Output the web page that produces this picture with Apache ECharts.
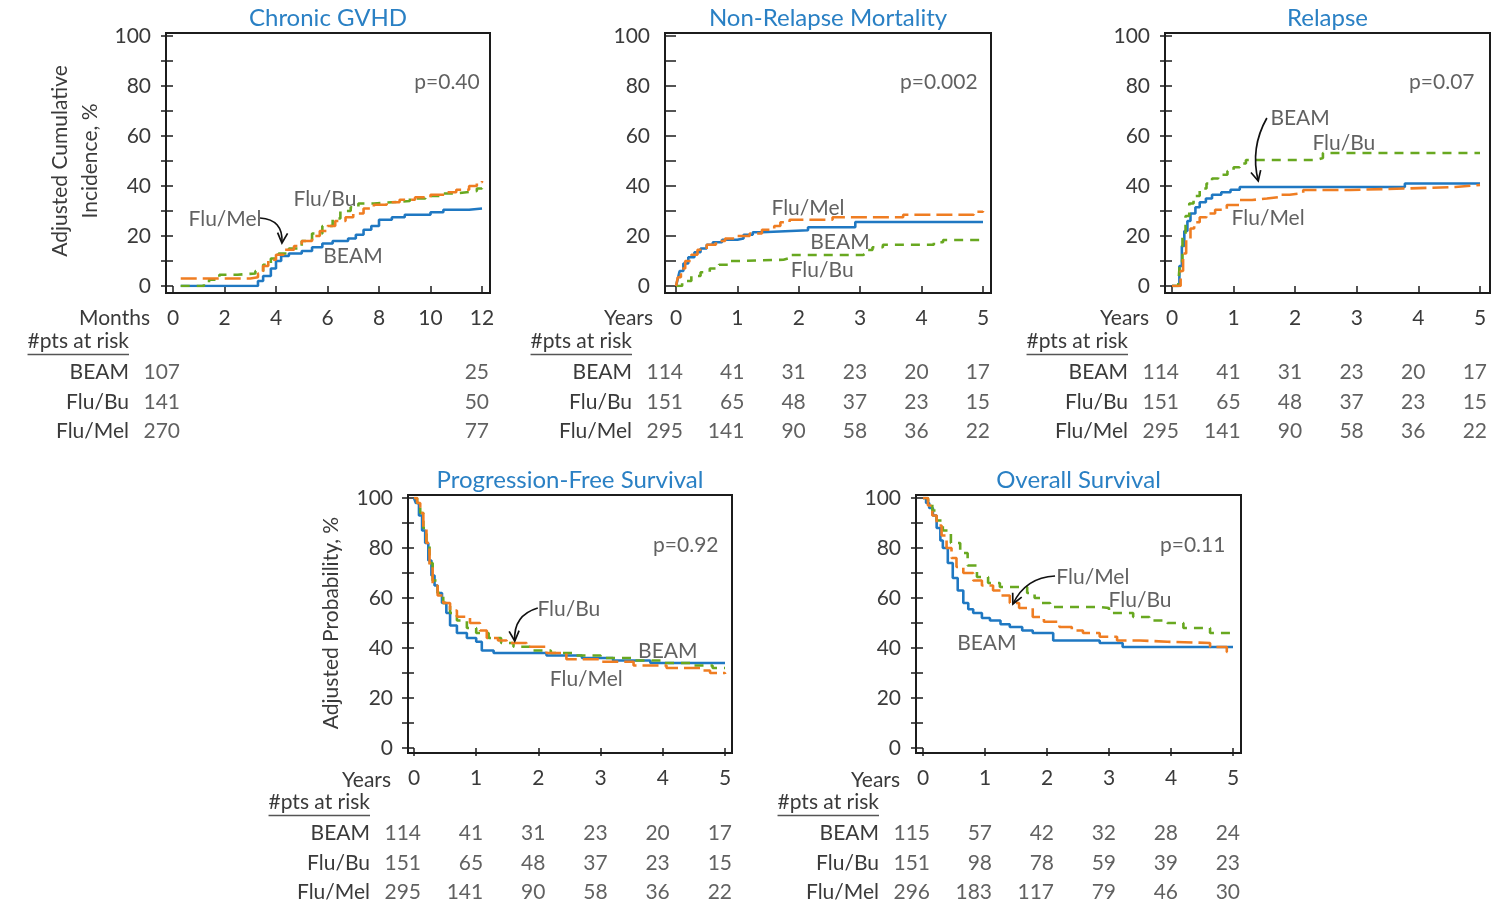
<!DOCTYPE html>
<html><head><meta charset="utf-8">
<script src="https://cdn.jsdelivr.net/npm/echarts@6/dist/echarts.min.js"></script>
<style>html,body{margin:0;padding:0;background:#fff}#c{width:1500px;height:909px}</style>
</head><body><div id="c"></div>
<script>
// ---------------- DATA ----------------
const groups = ['BEAM', 'Flu/Bu', 'Flu/Mel'];
const riskHeader = '#pts at risk';

// Chronic GVHD (months) : [time, %]
const gvhdBEAM = [[0.3,0],[3.2,0],[3.3,2],[3.5,4],[3.8,7],[4.0,10],[4.2,12],[4.5,13],[5.0,14],[5.4,15.5],[5.8,17],[6.2,18],[6.8,19],[7.1,20.5],[7.4,22.5],[7.7,24],[8.0,26.5],[8.5,27.5],[9.0,28.5],[10.0,29.5],[10.5,30.5],[11.5,31],[12,31]];
const gvhdFluBu = [[0.3,0],[1.2,1],[1.4,2.5],[1.8,4.5],[2.5,5],[3.2,6],[3.5,8.5],[3.8,11],[4.1,13],[4.5,15],[5.0,18],[5.4,21],[5.8,24],[6.2,27],[6.5,30],[6.9,31.5],[7.2,33],[7.8,33.5],[8.5,34],[9.2,35],[9.8,36],[10.5,37],[11.0,37.5],[11.4,38],[11.8,39],[12,40]];
const gvhdFluMel = [[0.3,3],[3.0,3.5],[3.3,5],[3.5,8],[3.7,10.5],[4.0,12.5],[4.3,14.5],[4.7,16],[5.0,18],[5.4,20],[5.7,22],[6.0,24],[6.3,26],[6.7,27.5],[7.0,29],[7.4,31],[7.8,32.5],[8.3,33.5],[8.8,34.5],[9.4,35.5],[10.0,36.5],[10.6,37.5],[11.0,38.5],[11.5,40],[11.8,41.5],[12,42]];
const gvhdRiskTimes = [0, 12];
const gvhdRiskBEAM = [107, 25];
const gvhdRiskFluBu = [141, 50];
const gvhdRiskFluMel = [270, 77];

// Non-Relapse Mortality (years)
const nrmBEAM = [[0,0],[0.03,3],[0.06,6],[0.12,9],[0.2,11.5],[0.3,13.5],[0.4,15],[0.5,16.5],[0.6,17.5],[0.75,18.5],[1.0,19],[1.1,20.5],[1.25,21.5],[1.4,22.3],[2.15,23.5],[2.92,25.6],[5,25.6]];
const nrmFluBu = [[0,0],[0.1,2],[0.25,4],[0.4,5.5],[0.55,7],[0.7,8.5],[0.88,10],[1.0,10.5],[1.75,11.2],[1.85,12.4],[3.05,13.2],[3.1,14.4],[3.2,15.5],[3.37,16.5],[4.2,17.5],[4.35,18.4],[5,18.4]];
const nrmFluMel = [[0,0],[0.03,3.5],[0.08,7],[0.15,10],[0.25,12.5],[0.35,14.5],[0.5,16.5],[0.65,18],[0.8,19],[1.0,20],[1.2,21],[1.4,22.5],[1.6,24],[1.7,25.5],[1.85,26.5],[2.55,27.5],[3.7,28.5],[4.85,29.7],[5,30]];
const yearRiskTimes = [0, 1, 2, 3, 4, 5];
const nrmRiskBEAM = [114, 41, 31, 23, 20, 17];
const nrmRiskFluBu = [151, 65, 48, 37, 23, 15];
const nrmRiskFluMel = [295, 141, 90, 58, 36, 22];

// Relapse (years)
const relBEAM = [[0,0],[0.08,0],[0.12,8],[0.16,16],[0.2,22],[0.25,26],[0.3,29],[0.38,31.5],[0.45,33.5],[0.55,35],[0.65,36.5],[0.8,37.5],[0.95,38.5],[1.1,39.6],[3.78,41],[5,41]];
const relFluBu = [[0,0],[0.1,0],[0.13,10],[0.17,20],[0.22,28],[0.28,33],[0.35,36],[0.45,39],[0.56,41],[0.65,43],[0.75,44.5],[0.9,46],[1.0,47.5],[1.1,49],[1.2,50.4],[2.35,51.2],[2.45,53.2],[5,53.2]];
const relFluMel = [[0,0],[0.1,0],[0.14,6],[0.18,13],[0.23,19],[0.3,23],[0.36,25.5],[0.45,27.5],[0.56,29],[0.7,30.5],[0.89,32.4],[1.1,34.4],[1.3,35],[1.54,35.6],[1.75,36.5],[1.91,37.2],[2.13,38.4],[2.9,39],[3.8,39.6],[4.6,40.4],[5,40.4]];
const relRiskBEAM = [114, 41, 31, 23, 20, 17];
const relRiskFluBu = [151, 65, 48, 37, 23, 15];
const relRiskFluMel = [295, 141, 90, 58, 36, 22];

// Progression-Free Survival (years)
const pfsBEAM = [[0,100],[0.03,98],[0.08,93],[0.13,87],[0.18,82],[0.23,75],[0.28,69],[0.33,65],[0.38,62],[0.45,58],[0.52,54],[0.58,49],[0.69,46],[0.85,44],[1.0,42.5],[1.09,39],[1.28,38],[2.13,37],[2.7,36],[3.2,35],[3.8,34],[5,34]];
const pfsFluBu = [[0,100],[0.05,98],[0.1,94],[0.15,88],[0.2,81],[0.25,74],[0.3,67],[0.38,62],[0.47,58],[0.58,54],[0.69,51],[0.85,48],[1.0,46],[1.2,44],[1.4,42],[1.6,40.5],[1.9,39],[2.2,38],[2.6,37],[3.0,36],[3.5,35],[4.0,34],[4.5,33],[4.8,32],[5,32]];
const pfsFluMel = [[0,100],[0.05,98],[0.1,94],[0.15,88],[0.2,82],[0.25,73],[0.3,65],[0.38,61],[0.47,58],[0.58,55],[0.69,52.5],[0.9,50],[1.06,47],[1.17,44],[1.35,43],[1.49,42],[1.81,40.5],[2.13,38],[2.45,35.5],[2.99,34.5],[3.53,33],[4.06,32],[4.6,31],[4.76,30],[5,29.6]];
const pfsRiskBEAM = [114, 41, 31, 23, 20, 17];
const pfsRiskFluBu = [151, 65, 48, 37, 23, 15];
const pfsRiskFluMel = [295, 141, 90, 58, 36, 22];

// Overall Survival (years)
const osBEAM = [[0,100],[0.05,98],[0.1,96],[0.16,93],[0.22,88],[0.28,83],[0.32,80],[0.4,74],[0.48,68],[0.56,63],[0.65,58],[0.73,55.5],[0.81,54],[0.95,52],[1.08,51],[1.25,49.5],[1.4,48.4],[1.6,47],[1.77,46],[2.1,43],[2.85,42],[3.22,40.4],[5,40.4]];
const osFluBu = [[0,100],[0.08,99],[0.15,95],[0.22,91],[0.32,87],[0.45,82],[0.6,78],[0.72,73],[0.87,68.4],[1.05,66],[1.24,64.4],[1.68,62],[1.8,60],[1.9,58],[2.05,56.4],[2.85,56],[3.0,54],[3.39,52.4],[3.65,51],[3.94,50],[4.2,48],[4.63,46],[5,46]];
const osFluMel = [[0,100],[0.08,97],[0.15,93],[0.22,89],[0.3,85],[0.38,80],[0.46,76],[0.54,72.4],[0.65,70],[0.81,67],[0.95,65],[1.13,63],[1.25,61],[1.4,58],[1.55,56],[1.77,52.4],[1.95,50.5],[2.2,48.4],[2.4,47],[2.58,46],[2.85,44.5],[3.13,43],[3.5,42.5],[3.94,42],[4.63,40.4],[4.9,38.4],[5,38.4]];
const osRiskBEAM = [115, 57, 42, 32, 28, 24];
const osRiskFluBu = [151, 98, 78, 59, 39, 23];
const osRiskFluMel = [296, 183, 117, 79, 46, 30];

const pValues = ['p=0.40', 'p=0.002', 'p=0.07', 'p=0.92', 'p=0.11'];
const titles = ['Chronic GVHD', 'Non-Relapse Mortality', 'Relapse', 'Progression-Free Survival', 'Overall Survival'];

// ---------------- STYLE / LAYOUT ----------------
const FONT = 'Lato';
const TXT = '#3a3a3a';
const FS = 21;
const colors = {'BEAM': '#1f78c2', 'Flu/Bu': '#68a820', 'Flu/Mel': '#ef7d22'};
const dashes = {'BEAM': 'solid', 'Flu/Bu': [9, 7], 'Flu/Mel': [16, 6]};

const panels = [
  {title: titles[0], unit: 'Months', xmax: 12, xint: 2, box: [166, 33, 490, 293], plot: [173, 36, 482, 286], tableTop: 327.5,
   yName: 'Adjusted Cumulative\nIncidence, %', yNameGap: 61,
   curves: [gvhdBEAM, gvhdFluBu, gvhdFluMel], riskT: gvhdRiskTimes, risk: [gvhdRiskBEAM, gvhdRiskFluBu, gvhdRiskFluMel],
   notes: [[pValues[0], 10.64, 81.6], ['Flu/Bu', 5.9, 34.8], ['Flu/Mel', 2.02, 26.8], ['BEAM', 6.99, 12]],
   arrow: [[3.38, 27.2], [4.23, 17.2], 0.5]},
  {title: titles[1], unit: 'Years', xmax: 5, xint: 1, box: [665, 33, 991, 293], plot: [676, 36, 983, 286], tableTop: 327.5,
   curves: [nrmBEAM, nrmFluBu, nrmFluMel], riskT: yearRiskTimes, risk: [nrmRiskBEAM, nrmRiskFluBu, nrmRiskFluMel],
   notes: [[pValues[1], 4.28, 81.6], ['Flu/Mel', 2.15, 31.2], ['BEAM', 2.67, 17.6], ['Flu/Bu', 2.38, 6.4]]},
  {title: titles[2], unit: 'Years', xmax: 5, xint: 1, box: [1165, 33, 1490, 293], plot: [1172, 36, 1480, 286], tableTop: 327.5,
   curves: [relBEAM, relFluBu, relFluMel], riskT: yearRiskTimes, risk: [relRiskBEAM, relRiskFluBu, relRiskFluMel],
   notes: [[pValues[2], 4.38, 81.6], ['BEAM', 2.08, 67.2], ['Flu/Bu', 2.79, 57.2], ['Flu/Mel', 1.56, 27.2]],
   arrow: [[1.54, 67.2], [1.40, 42], -0.2]},
  {title: titles[3], unit: 'Years', xmax: 5, xint: 1, box: [408, 495, 732, 753], plot: [414, 498, 725, 748], tableTop: 788.5,
   yName: 'Adjusted Probability, %', yNameGap: 62,
   curves: [pfsBEAM, pfsFluBu, pfsFluMel], riskT: yearRiskTimes, risk: [pfsRiskBEAM, pfsRiskFluBu, pfsRiskFluMel],
   notes: [[pValues[3], 4.37, 81.2], ['Flu/Bu', 2.49, 55.6], ['BEAM', 4.08, 38.8], ['Flu/Mel', 2.77, 27.6]],
   arrow: [[1.99, 56], [1.62, 42.8], -0.4]},
  {title: titles[4], unit: 'Years', xmax: 5, xint: 1, box: [916, 495, 1241, 753], plot: [923, 498, 1233, 748], tableTop: 788.5,
   curves: [osBEAM, osFluBu, osFluMel], riskT: yearRiskTimes, risk: [osRiskBEAM, osRiskFluBu, osRiskFluMel],
   notes: [[pValues[4], 4.35, 81.2], ['Flu/Mel', 2.74, 68.4], ['Flu/Bu', 3.5, 59.2], ['BEAM', 1.03, 42]],
   arrow: [[2.13, 68.8], [1.45, 57.6], -0.3]}
];

const ctx = document.createElement('canvas').getContext('2d');
ctx.font = FS + 'px ' + FONT;
const underlineW = ctx.measureText(riskHeader).width;

const txt = {fontSize: FS, color: TXT, fontFamily: FONT};
const option = {animation: false, backgroundColor: '#fff', title: [], grid: [], xAxis: [], yAxis: [], series: []};

function arrowRenderer(curv) {
  return function (params, api) {
    const a = api.coord([api.value(0), api.value(1)]);
    const b = api.coord([api.value(2), api.value(3)]);
    const cp = [(a[0] + b[0]) / 2 - (a[1] - b[1]) * curv, (a[1] + b[1]) / 2 - (b[0] - a[0]) * curv];
    const dx = b[0] - cp[0], dy = b[1] - cp[1];
    const L = Math.sqrt(dx * dx + dy * dy) || 1;
    const ux = dx / L, uy = dy / L;
    const hl = 10, hw = 5;
    const base = [b[0] - ux * hl, b[1] - uy * hl];
    return {type: 'group', children: [
      {type: 'bezierCurve', shape: {x1: a[0], y1: a[1], x2: b[0], y2: b[1], cpx1: cp[0], cpy1: cp[1]},
       style: {stroke: '#111', lineWidth: 1.7, fill: null}},
      {type: 'polyline', shape: {points: [[base[0] - uy * hw, base[1] + ux * hw], b, [base[0] + uy * hw, base[1] - ux * hw]]},
       style: {stroke: '#111', lineWidth: 1.7, fill: null}}
    ]};
  };
}

panels.forEach(function (p) {
  const [bl, bt, br, bb] = p.box;
  const [x0, y100, x1, y0] = p.plot;
  option.title.push({text: p.title, left: (bl + br) / 2, top: bt - 27, textAlign: 'center', padding: 0,
    textStyle: {fontSize: 24, fontWeight: 'normal', color: '#2a80c4', fontFamily: FONT}});
  // box grid
  const gBox = option.grid.length;
  option.grid.push({left: bl, top: bt, width: br - bl, height: bb - bt, show: true, borderColor: '#1c1c1c', borderWidth: 2, backgroundColor: 'transparent', containLabel: false, outerBoundsMode: 'none'});
  option.xAxis.push({gridIndex: gBox, type: 'value', show: false, min: 0, max: 1});
  option.yAxis.push({gridIndex: gBox, type: 'value', show: false, min: 0, max: 1});
  // plot grid
  const gPlot = option.grid.length;
  option.grid.push({left: x0, top: y100, width: x1 - x0, height: y0 - y100, containLabel: false, outerBoundsMode: 'none'});
  const xP = option.xAxis.length;
  option.xAxis.push({gridIndex: gPlot, type: 'value', min: 0, max: p.xmax, interval: p.xint, position: 'bottom', offset: bb - y0,
    axisLine: {show: false}, axisTick: {show: true, length: 8, lineStyle: {color: '#1c1c1c', width: 1.5}},
    axisLabel: Object.assign({margin: 15}, txt), splitLine: {show: false},
    name: p.unit, nameLocation: 'start', nameGap: 23,
    nameTextStyle: Object.assign({align: 'right', verticalAlign: 'top', padding: [22, 0, 0, 0]}, txt)});
  const yP = option.yAxis.length;
  option.yAxis.push({gridIndex: gPlot, type: 'value', min: 0, max: 100, interval: 10, position: 'left', offset: x0 - bl,
    axisLine: {show: false}, axisTick: {show: true, length: 12, lineStyle: {color: '#1c1c1c', width: 1.5}},
    axisLabel: Object.assign({margin: 15, padding: [5, 0, 0, 0], formatter: function (v) { return v % 20 === 0 ? String(v) : ''; }}, txt),
    splitLine: {show: false},
    name: p.yName || '', nameLocation: 'middle', nameRotate: 90, nameGap: p.yNameGap || 0,
    nameTextStyle: Object.assign({lineHeight: 30}, txt)});
  // table grid
  const gTab = option.grid.length;
  option.grid.push({left: x0, top: p.tableTop, width: x1 - x0, height: 119, containLabel: false, outerBoundsMode: 'none'});
  const xT = option.xAxis.length; option.xAxis.push({gridIndex: gTab, type: 'value', min: 0, max: p.xmax, show: false});
  const yT = option.yAxis.length;
  option.yAxis.push({gridIndex: gTab, type: 'category', inverse: true, data: [riskHeader].concat(groups),
    axisLine: {show: false}, axisTick: {show: false}, splitLine: {show: false},
    axisLabel: Object.assign({margin: 44, formatter: function (v) { return v === riskHeader ? '{t|' + v + '}\n{u| }' : v; },
      rich: {t: Object.assign({lineHeight: 24}, txt), u: {width: underlineW, height: 1.5, lineHeight: 3, fontSize: 1, backgroundColor: '#555'}}}, txt)});

  // curves
  groups.forEach(function (g, k) {
    option.series.push({type: 'line', name: g, xAxisIndex: xP, yAxisIndex: yP, data: p.curves[k], step: 'end',
      showSymbol: false, symbol: 'none', silent: true, z: 3 + k,
      lineStyle: {color: colors[g], width: 2.6, type: dashes[g]}});
  });
  // risk table numbers
  const riskData = [];
  groups.forEach(function (g, k) {
    p.riskT.forEach(function (t, j) { riskData.push({name: String(p.risk[k][j]), value: [t, g]}); });
  });
  option.series.push({type: 'scatter', xAxisIndex: xT, yAxisIndex: yT, data: riskData, symbolSize: 1, silent: true, clip: false,
    itemStyle: {color: 'rgba(0,0,0,0)'},
    label: Object.assign({show: true, position: 'inside', align: 'right', offset: [7, 0], formatter: '{b}'}, txt)});
  // annotations
  option.series.push({type: 'scatter', xAxisIndex: xP, yAxisIndex: yP, symbolSize: 1, silent: true, clip: false, z: 10,
    itemStyle: {color: 'rgba(0,0,0,0)'},
    data: p.notes.map(function (n) { return {name: n[0], value: [n[1], n[2]]}; }),
    label: Object.assign({show: true, position: 'inside', formatter: '{b}'}, txt)});
  if (p.arrow) {
    option.series.push({type: 'custom', xAxisIndex: xP, yAxisIndex: yP, silent: true, z: 11, clip: false,
      dimensions: ['x1', 'y1', 'x2', 'y2'], encode: {x: [0, 2], y: [1, 3]},
      data: [[p.arrow[0][0], p.arrow[0][1], p.arrow[1][0], p.arrow[1][1]]],
      renderItem: arrowRenderer(p.arrow[2])});
  }
});

const chart = echarts.init(document.getElementById('c'), null, {renderer: 'canvas'});
chart.setOption(option);
</script>
</body></html>
